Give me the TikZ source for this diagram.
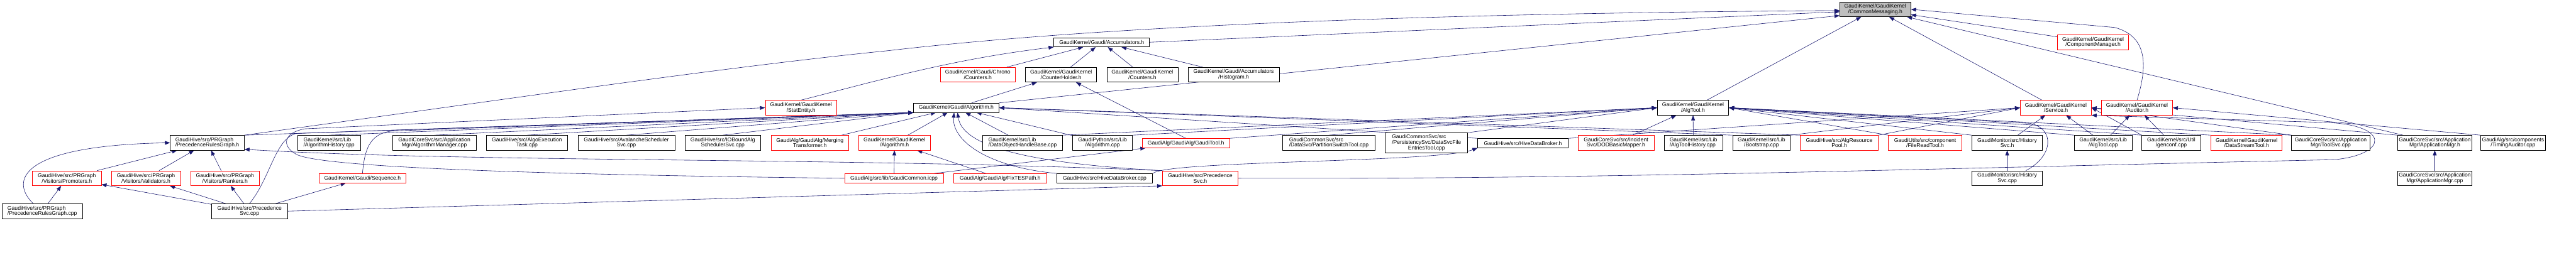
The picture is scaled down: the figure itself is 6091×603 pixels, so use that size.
\documentclass[tikz,border=0pt]{standalone}
\usepackage{fontspec}
\setmainfont{Liberation Sans}
\usetikzlibrary{arrows.meta}
\definecolor{edgeblue}{HTML}{191970}
\definecolor{rootgray}{HTML}{BFBFBF}
\definecolor{truncred}{HTML}{FF0000}
\pgfdeclarelayer{paper}
\pgfdeclarelayer{edges}
\pgfsetlayers{paper,edges,main}
\tikzset{
  filebox/.style={
    rectangle, draw=black, fill=white, line width=1pt,
    align=center, font=\fontsize{12.8}{13}\selectfont,
    inner xsep=3pt, inner ysep=2pt,
    minimum height=35pt, minimum width=#1pt
  },
  truncbox/.style={filebox=#1, draw=truncred},
  rootbox/.style={filebox=#1, fill=rootgray},
  oneline/.style={minimum height=22pt},
  incl/.style={-{Triangle[length=12pt,width=9pt]}, draw=edgeblue, line width=0.9pt}
}

\begin{document}
\begin{tikzpicture}[x=1pt, y=-1pt]

  \useasboundingbox (0,0) rectangle (6091,603);
  \begin{pgfonlayer}{paper}
    \fill[white] (0,0) rectangle (6091,603);
  \end{pgfonlayer}

  % top file and its first ring
  \node[rootbox=168] (cm) at (4434,22) {GaudiKernel/GaudiKernel\\/CommonMessaging.h};
  \node[truncbox=168] (compmgr) at (4949,100) {GaudiKernel/GaudiKernel\\/ComponentManager.h};
  \node[filebox=226, oneline] (accum) at (2605,100) {GaudiKernel/Gaudi/Accumulators.h};

  \node[truncbox=178] (chrono) at (2312,177) {GaudiKernel/Gaudi/Chrono\\/Counters.h};
  \node[filebox=168] (ctrholder) at (2509,177) {GaudiKernel/GaudiKernel\\/CounterHolder.h};
  \node[filebox=168] (kcounters) at (2701,177) {GaudiKernel/GaudiKernel\\/Counters.h};
  \node[filebox=215] (histo) at (2917,177) {GaudiKernel/Gaudi/Accumulators\\/Histogram.h};

  \node[truncbox=169] (statentity) at (1894,255) {GaudiKernel/GaudiKernel\\/StatEntity.h};
  \node[filebox=202, oneline] (galgo) at (2261,255) {GaudiKernel/Gaudi/Algorithm.h};
  \node[filebox=169] (algtoolh) at (4003,255) {GaudiKernel/GaudiKernel\\/AlgTool.h};
  \node[truncbox=168] (serviceh) at (4861,255) {GaudiKernel/GaudiKernel\\/Service.h};
  \node[truncbox=168] (auditorh) at (5053,255) {GaudiKernel/GaudiKernel\\/Auditor.h};

  % includers row
  \node[filebox=175, align=left] (prgraphh) at (490,338) {GaudiHive/src/PRGraph\\/PrecedenceRulesGraph.h};
  \node[filebox=148, align=left] (alghist) at (778,338) {GaudiKernel/src/Lib\\/AlgorithmHistory.cpp};
  \node[filebox=197] (algmgr) at (1027,338) {GaudiCoreSvc/src/Application\\Mgr/AlgorithmManager.cpp};
  \node[filebox=193] (algoexec) at (1246,338) {GaudiHive/src/AlgoExecution\\Task.cpp};
  \node[filebox=229] (avalanche) at (1481,338) {GaudiHive/src/AvalancheScheduler\\Svc.cpp};
  \node[filebox=179] (iobound) at (1709,338) {GaudiHive/src/IOBoundAlg\\SchedulerSvc.cpp};
  \node[truncbox=183] (merging) at (1915,338) {GaudiAlg/GaudiAlg/Merging\\Transformer.h};
  \node[truncbox=169] (kalgo) at (2115,338) {GaudiKernel/GaudiKernel\\/Algorithm.h};
  \node[filebox=188, align=left] (dohb) at (2418,338) {GaudiKernel/src/Lib\\/DataObjectHandleBase.cpp};
  \node[filebox=141] (pyalgo) at (2607,338) {GaudiPython/src/Lib\\/Algorithm.cpp};
  \node[truncbox=207, oneline] (gauditool) at (2804,339) {GaudiAlg/GaudiAlg/GaudiTool.h};
  \node[filebox=219, align=left] (partsw) at (3142,338) {GaudiCommonSvc/src\\/DataSvc/PartitionSwitchTool.cpp};
  \node[filebox=195, align=left, minimum height=47pt] (dsfe) at (3373,338)
    {GaudiCommonSvc/src\\/PersistencySvc/DataSvcFile\\\hspace*{\fill}EntriesTool.cpp\hspace*{\fill}};
  \node[filebox=214, oneline] (hdbh) at (3601,339) {GaudiHive/src/HiveDataBroker.h};
  \node[truncbox=180] (dodmap) at (3821,338) {GaudiCoreSvc/src/Incident\\Svc/DODBasicMapper.h};
  \node[filebox=138, align=left] (athist) at (4004,338) {GaudiKernel/src/Lib\\/AlgToolHistory.cpp};
  \node[filebox=136] (bootstrap) at (4165,338) {GaudiKernel/src/Lib\\/Bootstrap.cpp};
  \node[truncbox=184] (respool) at (4349,338) {GaudiHive/src/AlgResource\\Pool.h};
  \node[truncbox=174] (fileread) at (4552,338) {GaudiUtils/src/component\\/FileReadTool.h};
  \node[filebox=167] (histsvch) at (4746,338) {GaudiMonitor/src/History\\Svc.h};
  \node[filebox=136] (algtoolcpp) at (4973,338) {GaudiKernel/src/Lib\\/AlgTool.cpp};
  \node[filebox=139] (genconf) at (5134,338) {GaudiKernel/src/Util\\/genconf.cpp};
  \node[truncbox=168] (dstream) at (5312,338) {GaudiKernel/GaudiKernel\\/DataStreamTool.h};
  \node[filebox=185] (toolsvc) at (5511,338) {GaudiCoreSvc/src/Application\\Mgr/ToolSvc.cpp};
  \node[filebox=175] (appmgrh) at (5757,338) {GaudiCoreSvc/src/Application\\Mgr/ApplicationMgr.h};
  \node[filebox=152] (timing) at (5942,338) {GaudiAlg/src/components\\/TimingAuditor.cpp};

  % lower rows
  \node[truncbox=163] (promoters) at (158,422) {GaudiHive/src/PRGraph\\/Visitors/Promoters.h};
  \node[truncbox=164] (validators) at (345,422) {GaudiHive/src/PRGraph\\/Visitors/Validators.h};
  \node[truncbox=163] (rankers) at (532,422) {GaudiHive/src/PRGraph\\/Visitors/Rankers.h};
  \node[truncbox=204, oneline] (sequence) at (857,422) {GaudiKernel/Gaudi/Sequence.h};
  \node[truncbox=234, oneline] (gcommon) at (2114,422) {GaudiAlg/src/lib/GaudiCommon.icpp};
  \node[truncbox=220, oneline] (fixtes) at (2365,422) {GaudiAlg/GaudiAlg/FixTESPath.h};
  \node[filebox=227, oneline] (hdbcpp) at (2612,422) {GaudiHive/src/HiveDataBroker.cpp};
  \node[truncbox=179] (precsvch) at (2838,422) {GaudiHive/src/Precedence\\Svc.h};
  \node[filebox=167] (histsvccpp) at (4746,422) {GaudiMonitor/src/History\\Svc.cpp};
  \node[filebox=175] (appmgrcpp) at (5757,422) {GaudiCoreSvc/src/Application\\Mgr/ApplicationMgr.cpp};

  \node[filebox=190, align=left] (prgraphcpp) at (100,500) {GaudiHive/src/PRGraph\\/PrecedenceRulesGraph.cpp};
  \node[filebox=179] (precsvccpp) at (590,500) {GaudiHive/src/Precedence\\Svc.cpp};

  \begin{pgfonlayer}{edges}
    % centre to centre
    \foreach \a/\b in {compmgr/cm, algtoolh/cm, serviceh/cm, appmgrh/cm,
                       chrono/accum, ctrholder/accum, kcounters/accum, histo/accum,
                       galgo/ctrholder, merging/galgo, kalgo/galgo, dohb/galgo, pyalgo/galgo,
                       dodmap/algtoolh, athist/algtoolh, histsvch/serviceh, algtoolcpp/serviceh,
                       algtoolcpp/auditorh, genconf/auditorh,
                       promoters/prgraphh, validators/prgraphh, rankers/prgraphh,
                       prgraphcpp/promoters, precsvccpp/promoters, precsvccpp/validators,
                       precsvccpp/rankers, precsvccpp/sequence,
                       gcommon/kalgo, fixtes/kalgo, gcommon/gauditool,
                       histsvccpp/histsvch, appmgrcpp/appmgrh}{
      \draw[incl] (\a) -- (\b);
    }
    % left-hand includers of Gaudi/Algorithm.h
    \foreach \a in {alghist, algmgr, algoexec, avalanche, iobound}{
      \draw[incl] (\a.north) -- (galgo.south west);
    }
    \draw[incl] (prgraphh.north east) -- (galgo.south west);
    % towards the west side of a header
    \foreach \a/\b in {dohb/algtoolh, pyalgo/algtoolh, gauditool/algtoolh, dsfe/algtoolh,
                       hdbh/serviceh, respool/serviceh, bootstrap/serviceh}{
      \draw[incl] (\a.north east) -- (\b.west);
    }
    \draw[incl] (partsw.north) -- (algtoolh.west);
    % towards the east side of a header
    \foreach \a/\b in {hdbh/galgo, respool/galgo, bootstrap/galgo,
                       fileread/algtoolh, histsvch/algtoolh, algtoolcpp/algtoolh,
                       genconf/algtoolh, dstream/algtoolh, toolsvc/algtoolh,
                       genconf/serviceh, toolsvc/serviceh, appmgrh/serviceh, timing/auditorh}{
      \draw[incl] (\a.north west) -- (\b.east);
    }

    \draw[incl] (gauditool.north) -- (ctrholder);
    \draw[incl] (accum.east) -- (cm.184);
    \draw[incl] (galgo.north east) -- (cm.190);
    \draw[incl] (prgraphh.north east) .. controls (1200,235) and (1700,160) .. (2100,120)
                .. controls (2700,50) and (3600,30) .. (cm.182);
    \draw[incl] (statentity.north) .. controls (2080,190) and (2250,140) .. (accum.south west);
    \draw[incl] (auditorh.north) .. controls (5080,150) and (5075,85) .. (5000,65) -- (cm.east);
    \draw[incl] (precsvccpp.east) -- (precsvch.south west);
    \draw[incl] (prgraphcpp.140) .. controls (25,430) and (40,345) .. (prgraphh.west);
    \draw[incl] (sequence.north) .. controls (862,360) and (870,315) .. (930,310) -- (galgo.south west);
    \draw[incl] (precsvccpp.north) .. controls (640,420) and (650,330) .. (700,316) -- (galgo.south west);
    \draw[incl] (gcommon.west) .. controls (1400,415) and (760,400) .. (700,365)
                .. controls (665,345) and (670,315) .. (720,305) -- (statentity.west);
    \draw[incl] (hdbcpp.north west) .. controls (2330,395) and (2250,330) .. ([xshift=-5pt]galgo.south);
    \draw[incl] (precsvch.north west) .. controls (2400,385) and (2275,340) .. ([xshift=3pt]galgo.south);
    \draw[incl] (precsvch.north west) .. controls (2000,372) and (1100,385) .. (prgraphh.-10);
    \draw[incl] (hdbcpp.north east) .. controls (2760,380) and (3400,385) .. (hdbh.south west);
    \draw[incl] ([xshift=-40pt]histsvccpp.north east) .. controls (4855,370) and (4860,305) .. (4800,292)
                -- (algtoolh.east);
    \draw[incl] (precsvch.east) .. controls (3800,425) and (4600,398) .. (5520,378)
                .. controls (5650,365) and (5650,295) .. (5500,290) -- (serviceh.south east);
  \end{pgfonlayer}

\end{tikzpicture}
\end{document}
